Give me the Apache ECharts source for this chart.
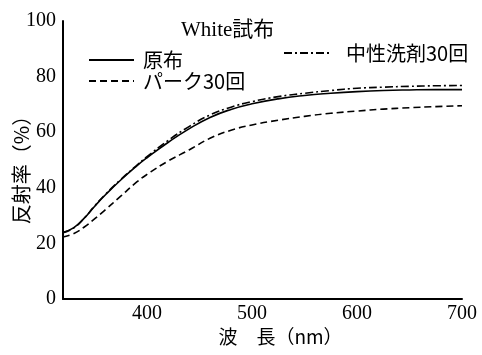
<!DOCTYPE html>
<html><head><meta charset="utf-8">
<script src="https://cdn.jsdelivr.net/npm/echarts@6/dist/echarts.min.js"></script>
<style>html,body{margin:0;padding:0;background:#fff}#c{width:482px;height:355px}</style>
</head><body><div id="c"></div>
<script>
const wavelengths = [320, 330, 340, 350, 360, 375, 390, 400, 420, 440, 460, 480, 500, 525, 550, 575, 600, 625, 650, 675, 700];
const original = [24, 25.6, 29, 33.3, 37.3, 42.8, 47.8, 50.8, 56.3, 61.2, 65.3, 68.2, 70.2, 72, 73.2, 74, 74.6, 75, 75.2, 75.3, 75.3];
const park30 = [22.3, 23.5, 25.8, 28.8, 32, 37, 42, 44.8, 49.6, 53.6, 57.8, 60.7, 62.6, 64.3, 65.7, 66.8, 67.6, 68.3, 68.8, 69.2, 69.5];
const neutral30 = [23.8, 25.5, 29, 33.4, 37.5, 43, 48, 51.2, 57, 62, 66.2, 69, 71, 72.8, 74, 75, 75.8, 76.2, 76.5, 76.7, 76.8];
const xTicks = [400, 500, 600, 700];
const names = ['原布', 'パーク30回', '中性洗剤30回'];
const serif = 'Liberation Serif, Noto Sans CJK JP';
const cjk = 'Noto Sans CJK JP';
const pairs = ys => wavelengths.map((x, i) => [x, ys[i]]);
const chart = echarts.init(document.getElementById('c'));
const mk = (name, ys, type) => ({
  name, type: 'line', data: pairs(ys), smooth: true, showSymbol: false, symbol: 'none',
  lineStyle: { color: '#000', width: 1.6, type }, itemStyle: { color: '#000' }, animation: false
});
chart.setOption({
  animation: false,
  title: { text: 'White試布', left: 176, top: 15, textStyle: { fontFamily: serif, fontSize: 21, fontWeight: 'normal', color: '#000' } },
  legend: [
    { data: [names[0], names[1]], orient: 'vertical', left: 83, top: 45, itemWidth: 45, itemHeight: 14, itemGap: 1,
      itemStyle: { opacity: 0 },
      textStyle: { fontFamily: cjk, fontSize: 20, lineHeight: 20, color: '#000', padding: [0, 0, 0, 4] } },
    { data: [names[2]], left: 278, top: 38, itemWidth: 47, itemHeight: 14,
      itemStyle: { opacity: 0 },
      textStyle: { fontFamily: cjk, fontSize: 20, lineHeight: 20, color: '#000', padding: [0, 0, 0, 10] } }
  ],
  grid: { left: 63, right: 20, top: 21, bottom: 56, containLabel: false, outerBoundsMode: 'none' },
  xAxis: {
    type: 'value', min: 320, max: 700,
    name: '波　長（nm）', nameLocation: 'middle', nameGap: 28, nameMoveOverlap: false,
    nameTextStyle: { fontFamily: cjk, fontSize: 19, color: '#000', padding: [0, 0, 0, 36] },
    axisLine: { lineStyle: { color: '#000', width: 2 } },
    axisTick: { show: false }, splitLine: { show: false },
    axisLabel: { customValues: xTicks, fontFamily: serif, fontSize: 20, color: '#000', margin: 5 }
  },
  yAxis: {
    type: 'value', min: 0, max: 100, interval: 20,
    name: '反射率（%）', nameLocation: 'middle', nameGap: 32, nameMoveOverlap: false,
    nameTextStyle: { fontFamily: cjk, fontSize: 20, color: '#000', padding: [0, 10, 0, 0] },
    axisLine: { show: true, lineStyle: { color: '#000', width: 2 } },
    axisTick: { show: false }, splitLine: { show: false },
    axisLabel: { fontFamily: serif, fontSize: 20, color: '#000', margin: 7 }
  },
  series: [
    mk(names[0], original, 'solid'),
    mk(names[1], park30, [7, 4]),
    mk(names[2], neutral30, [8, 3, 2, 3])
  ]
});
</script></body></html>
